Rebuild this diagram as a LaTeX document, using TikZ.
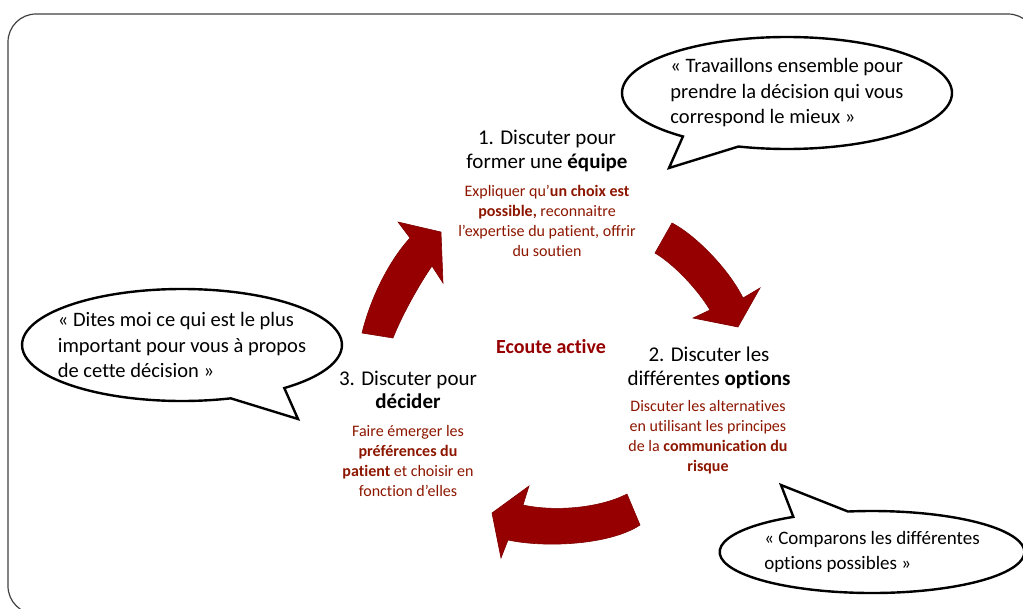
\documentclass[tikz,border=0pt]{standalone}
\usepackage{fontspec}
\setmainfont{Carlito}[Ligatures=NoCommon]
\usetikzlibrary{shapes.callouts}
\definecolor{cyclered}{RGB}{150,0,0}
\definecolor{notered}{RGB}{140,22,0}

\begin{document}
\begin{tikzpicture}[x=1pt,y=-1pt,
                    stage/.style={align=center,font=\fontsize{21}{23.5}\selectfont},
                    hint/.style={align=center,text=notered,font=\fontsize{16}{20}\selectfont},
                    quote/.style={ellipse callout,draw=black,fill=white,line width=2.4pt,
                                  inner sep=0pt,align=left,callout pointer arc=22,
                                  font=\fontsize{20.5}{25.5}\selectfont},
                    turn/.style={fill=cyclered,draw=cyclered!85!black,line width=0.6pt}]
  \useasboundingbox (0,0) rectangle (1023,608);
  \draw[black!75,line width=1.2pt,rounded corners=28pt] (8,14) rectangle (1036,614);

  % the three steps
  \node[stage] (t1) at (547,151) {1. Discuter pour\\former une \textbf{équipe}};
  \node[hint]  (h1) at (547,221) {Expliquer qu’\textbf{un choix est}\\\textbf{possible,} reconnaitre\\l’expertise du patient, offrir\\du soutien};
  \node[stage] (t2) at (709,368) {2. Discuter les\\différentes \textbf{options}};
  \node[hint]  (h2) at (708,437) {Discuter les alternatives\\en utilisant les principes\\de la \textbf{communication du}\\\textbf{risque}};
  \node[stage] (t3) at (408,390) {3. Discuter pour\\\textbf{décider}};
  \node[hint]  (h3) at (408,461) {Faire émerger les\\\textbf{préférences du}\\\textbf{patient} et choisir en\\fonction d’elles};
  \node[text=cyclered,font=\fontsize{20}{24}\selectfont\bfseries] (ea) at (551,347) {Ecoute active};

  % curved arrows
  \filldraw[turn] (362,333) .. controls (370,300) and (388,262) .. (410,238) -- (398,222) -- (441,232)
    -- (443,283) -- (432,266) .. controls (420,283) and (402,315) .. (393,338) -- cycle;
  \filldraw[turn] (672,223) .. controls (695,235) and (728,268) .. (743,298) -- (760,288) -- (738,327)
    -- (693,318) -- (710,310) .. controls (698,290) and (675,265) .. (655,253) -- cycle;
  \filldraw[turn] (627,494) .. controls (600,508) and (555,512) .. (523,505) -- (529,486) -- (492,513)
    -- (501,558) -- (508,540) .. controls (545,548) and (610,545) .. (640,525) -- cycle;

  % speech bubbles
  \node[quote,minimum width=330pt,minimum height=112pt,callout absolute pointer={(669,168)}] (q1) at (787,93)
    {« Travaillons ensemble pour\\prendre la décision qui vous\\correspond le mieux »};
  \node[quote,minimum width=318pt,minimum height=112pt,inner xsep=-11pt,
        callout absolute pointer={(298,419)}] (q2) at (182,345)
    {« Dites moi ce qui est le plus\\important pour vous à propos\\de cette décision »};
  \node[quote,minimum width=298pt,minimum height=82pt,callout absolute pointer={(781,485)},
        font=\fontsize{19}{25.5}\selectfont] (q3) at (872,552)
    {« Comparons les différentes\\options possibles »};
\end{tikzpicture}
\end{document}
